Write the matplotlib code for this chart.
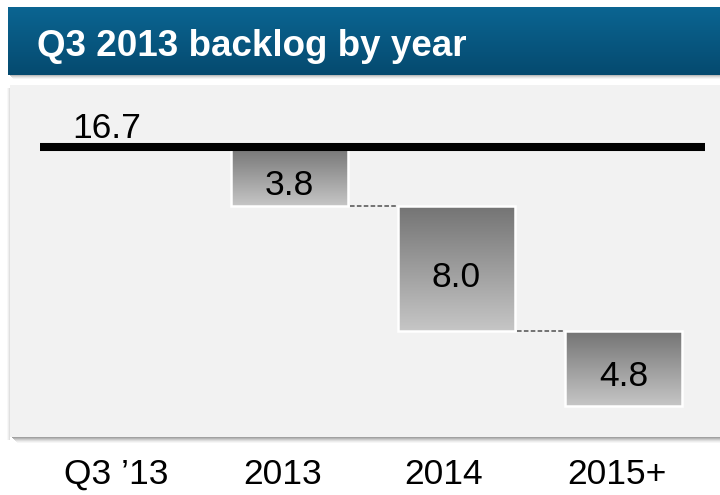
import matplotlib
matplotlib.use("Agg")
import matplotlib.pyplot as plt
from matplotlib.colors import LinearSegmentedColormap
from matplotlib.patches import Rectangle
import numpy as np

plt.rcParams['font.family'] = ['Liberation Sans', 'DejaVu Sans']

# backlog data ($B)
title = "Q3 2013 backlog by year"
start_label = "Q3 \u201913"
start_value = 16.7
years = ['2013', '2014', '2015+']
amounts = [3.8, 8.0, 4.8]
tick_labels = [start_label] + years

W, H = 720, 495
fig = plt.figure(figsize=(W / 100, H / 100), dpi=100)
fig.patch.set_facecolor('white')

# background layer in pixel units: header bar + grey panel with drop shadows
bg = fig.add_axes([0, 0, 1, 1], zorder=0)
bg.set_xlim(0, W)
bg.set_ylim(H, 0)
bg.axis('off')

vgrad = np.linspace(0, 1, 256).reshape(-1, 1)

# header shadow
for i, a in enumerate([0.35, 0.22, 0.12, 0.05]):
    bg.add_patch(Rectangle((10 + i, 75 + i), W, 1.2, color='#404040', alpha=a, lw=0))
header_cmap = LinearSegmentedColormap.from_list('hdr', ['#0b6592', '#054a6f'])
bg.imshow(vgrad, cmap=header_cmap, extent=[8, W + 2, 75, 7], aspect='auto', zorder=2)
bg.text(37, 56, title, color='white', fontsize=26.5, fontweight='bold',
        va='baseline', ha='left', zorder=3)

# panel shadow
for i, a in enumerate([0.45, 0.35, 0.25, 0.16, 0.09, 0.04]):
    bg.add_patch(Rectangle((12 + i, 437 + i), W, 1.2, color='#303030', alpha=a, lw=0))
for i, a in enumerate([0.15, 0.08, 0.03]):
    bg.add_patch(Rectangle((10 - i - 1, 88), 1.2, 352, color='#303030', alpha=a, lw=0))
bg.add_patch(Rectangle((10, 85), W, 352, facecolor='#f2f2f2', lw=0, zorder=1))

# waterfall layer: y in $B, x in category index
px_per_unit = 15.6
y_zero_px = 407.6
x0_px, x_step = 122.5, 167.0
ax_bottom_px = 447
ax = fig.add_axes([0, (H - ax_bottom_px) / H, 1, ax_bottom_px / H], zorder=1)
ax.patch.set_alpha(0)
xlim = (-x0_px / x_step, (W - x0_px) / x_step)
ylim = ((y_zero_px - ax_bottom_px) / px_per_unit, y_zero_px / px_per_unit)

bar_cmap = LinearSegmentedColormap.from_list('bar', ['#747474', '#c6c6c6'])
width = 0.70
level = start_value
x_pos = np.arange(1, len(years) + 1)
bottoms = []
for x, amt in zip(x_pos, amounts):
    top = level
    bottom = level - amt
    bottoms.append(bottom)
    ax.imshow(vgrad, cmap=bar_cmap, extent=[x - width / 2, x + width / 2, bottom, top],
              aspect='auto', zorder=2)
    ax.add_patch(Rectangle((x - width / 2, bottom), width, amt, facecolor='none',
                           edgecolor='white', lw=1.8, zorder=3))
    ax.annotate(f'{amt:.1f}', xy=(x, (top + bottom) / 2), xytext=(0, -6),
                textcoords='offset points', ha='center', va='center',
                fontsize=25.5, color='black', zorder=4)
    level = bottom

# dashed connectors between steps
for i in range(len(years) - 1):
    ax.plot([x_pos[i] + width / 2 + 0.01, x_pos[i + 1] - width / 2 - 0.01],
            [bottoms[i], bottoms[i]], color='#505050', lw=1.1,
            dashes=(3, 1.5), zorder=2)

# starting backlog line
ax.plot([-0.494, 3.488], [start_value, start_value], color='black', lw=5.8,
        solid_capstyle='butt', zorder=5)
ax.annotate(f'{start_value:.1f}', xy=(-0.30, start_value), xytext=(0, 6.5),
            textcoords='offset points', ha='left', va='baseline',
            fontsize=25.5, color='black')

ax.set_xlim(*xlim)
ax.set_ylim(*ylim)
ax.set_xticks([-0.04, 0.96, 1.92, 2.96], tick_labels, fontsize=25.5)
ax.set_yticks([])
ax.tick_params(axis='x', length=0, pad=8)
for s in ax.spines.values():
    s.set_visible(False)

fig.savefig('out.png', dpi=100)
